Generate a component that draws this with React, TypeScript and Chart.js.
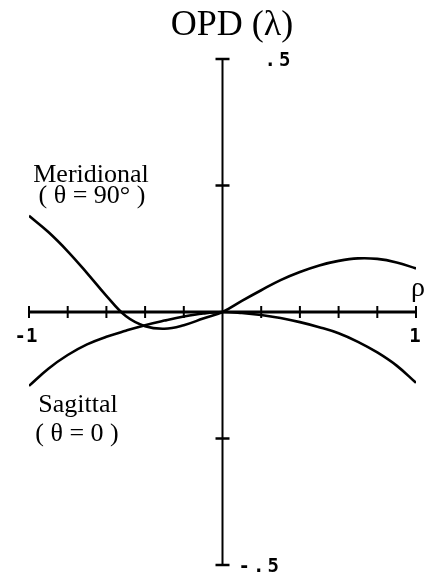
import React, { useEffect, useRef } from "react";
import { Chart, registerables } from "chart.js";

Chart.register(...registerables);

// Normalised pupil coordinate
const rho = [-1, -0.9, -0.8, -0.7, -0.6, -0.5, -0.4, -0.3, -0.2, -0.1, 0, 0.1, 0.2, 0.3, 0.4, 0.5, 0.6, 0.7, 0.8, 0.9, 1];

// Optical path difference in waves
const meridional = [0.19, 0.158, 0.12, 0.077, 0.032, -0.008, -0.028, -0.033, -0.026, -0.013, 0, 0.022, 0.043, 0.063, 0.079, 0.092, 0.101, 0.106, 0.105, 0.098, 0.086];
const sagittal = [-0.146, -0.112, -0.085, -0.064, -0.049, -0.037, -0.026, -0.017, -0.009, -0.003, 0, -0.002, -0.006, -0.012, -0.02, -0.03, -0.042, -0.059, -0.08, -0.106, -0.14];

// Tick marks along the axes
const xTickValues = [-1, -0.8, -0.6, -0.4, -0.2, 0.2, 0.4, 0.6, 0.8, 1];
const yTickValues = [-0.5, -0.25, 0.25, 0.5];

// Tick labels
const xLabelValues = [-1, 1];
const xLabelTexts = ["-1", "1"];
const yLabelValues = [0.5, -0.5];
const yLabelTexts = [".5", "-.5"];

const SERIF = '"Liberation Serif", "Times New Roman", serif';
const MONO = '"DejaVu Sans Mono", "Liberation Mono", monospace';

const crossAxes = {
  id: "crossAxes",
  beforeDatasetsDraw(chart: any) {
    const { ctx, scales } = chart;
    const xs = scales.x;
    const ys = scales.y;
    const x0 = xs.getPixelForValue(0);
    const y0 = ys.getPixelForValue(0);
    ctx.save();
    ctx.strokeStyle = "#000";
    ctx.lineCap = "butt";

    // horizontal axis (rho)
    ctx.lineWidth = 3;
    ctx.beginPath();
    ctx.moveTo(xs.getPixelForValue(-1), y0);
    ctx.lineTo(xs.getPixelForValue(1), y0);
    ctx.stroke();
    ctx.lineWidth = 2;
    for (const v of xTickValues) {
      const px = xs.getPixelForValue(v);
      ctx.beginPath();
      ctx.moveTo(px, y0 - 6);
      ctx.lineTo(px, y0 + 6);
      ctx.stroke();
    }

    // vertical axis (OPD)
    ctx.lineWidth = 2;
    ctx.beginPath();
    ctx.moveTo(x0, ys.getPixelForValue(0.5));
    ctx.lineTo(x0, ys.getPixelForValue(-0.5));
    ctx.stroke();
    ctx.lineWidth = 2.5;
    for (const v of yTickValues) {
      const py = ys.getPixelForValue(v);
      ctx.beginPath();
      ctx.moveTo(x0 - 7, py);
      ctx.lineTo(x0 + 7, py);
      ctx.stroke();
    }
    ctx.restore();
  },
  afterDraw(chart: any) {
    const { ctx, scales } = chart;
    const xs = scales.x;
    const ys = scales.y;
    const x0 = xs.getPixelForValue(0);
    const y0 = ys.getPixelForValue(0);
    ctx.save();
    ctx.fillStyle = "#000";
    ctx.textBaseline = "alphabetic";

    // numeric tick labels
    ctx.font = `bold 19px ${MONO}`;
    ctx.textAlign = "center";
    xLabelValues.forEach((v, i) => {
      const px = xs.getPixelForValue(v);
      ctx.fillText(xLabelTexts[i], v < 0 ? px - 3 : px - 1, y0 + 30);
    });
    ctx.textAlign = "left";
    (ctx as any).letterSpacing = "3px";
    yLabelValues.forEach((v, i) => {
      const py = ys.getPixelForValue(v);
      const dx = v > 0 ? 42 : 16;
      ctx.fillText(yLabelTexts[i], x0 + dx, py + (v > 0 ? 7 : 7));
    });
    (ctx as any).letterSpacing = "0px";

    // axis titles
    ctx.textAlign = "center";
    ctx.font = `36px ${SERIF}`;
    ctx.fillText("OPD (\u03bb)", 232, 35);
    ctx.textAlign = "left";
    ctx.font = `28px ${SERIF}`;
    ctx.fillText("\u03c1", xs.getPixelForValue(1) - 5, y0 - 16);

    // curve captions
    ctx.textAlign = "center";
    ctx.font = `26px ${SERIF}`;
    ctx.fillText("Meridional", 91, 182);
    ctx.fillText("( \u03b8 = 90\u00b0 )", 92, 203);
    ctx.fillText("Sagittal", 78, 412);
    ctx.fillText("( \u03b8 = 0 )", 77, 441);
    ctx.restore();
  },
};

export default function App() {
  const canvasRef = useRef<HTMLCanvasElement | null>(null);

  useEffect(() => {
    if (!canvasRef.current) return;
    const chart = new Chart(canvasRef.current, {
      type: "line",
      data: {
        datasets: [
          {
            label: "Meridional",
            data: rho.map((r, i) => ({ x: r, y: meridional[i] })),
            borderColor: "#000",
            borderWidth: 2.6,
            pointRadius: 0,
            tension: 0.4,
            fill: false,
          },
          {
            label: "Sagittal",
            data: rho.map((r, i) => ({ x: r, y: sagittal[i] })),
            borderColor: "#000",
            borderWidth: 2.6,
            pointRadius: 0,
            tension: 0.4,
            fill: false,
          },
        ],
      },
      options: {
        responsive: false,
        animation: false,
        devicePixelRatio: 1,
        layout: { padding: { left: 29, right: 9, top: 59, bottom: 10 } },
        scales: {
          x: { type: "linear", min: -1, max: 1, display: false },
          y: { type: "linear", min: -0.5, max: 0.5, display: false },
        },
        plugins: {
          legend: { display: false },
          tooltip: { enabled: false },
        },
      },
      plugins: [crossAxes],
    });
    return () => chart.destroy();
  }, []);

  return (
    <div style={{ position: "fixed", left: 0, top: 0, width: 425, height: 575, background: "#fff" }}>
      <canvas ref={canvasRef} width={425} height={575} />
    </div>
  );
}
